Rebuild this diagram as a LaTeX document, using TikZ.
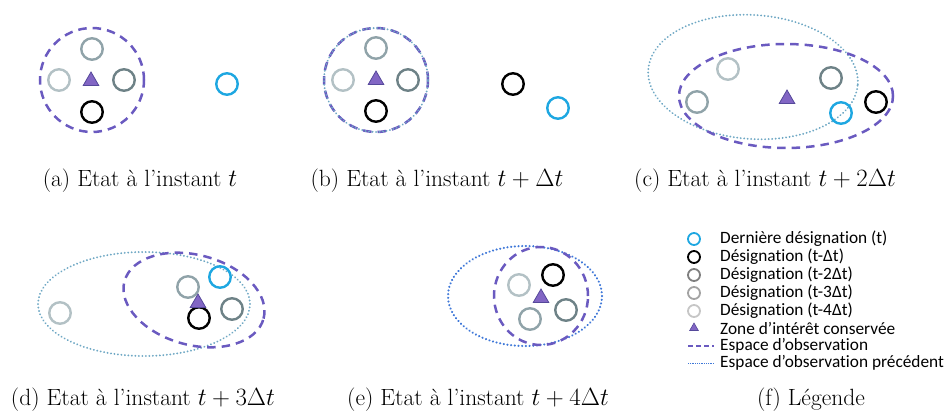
\documentclass[tikz,border=0pt]{standalone}
\usepackage{fontspec}
\newfontfamily\legfont[Ligatures=NoCommon]{Carlito}
\usetikzlibrary{shapes.geometric}
\definecolor{cblue}{HTML}{1EA7E1}
\definecolor{ctwo}{HTML}{6E8287}
\definecolor{cthree}{HTML}{90A3A9}
\definecolor{cfour}{HTML}{B3C1C5}
\definecolor{lthree}{HTML}{7F7F7F}
\definecolor{lfour}{HTML}{A3A3A3}
\definecolor{lfive}{HTML}{C6C6C6}
\definecolor{cpurple}{HTML}{6A5AC0}
\definecolor{ctri}{HTML}{8266C4}
\definecolor{cdot}{HTML}{6FA8C4}
\definecolor{cdotb}{HTML}{3F78D8}
\tikzset{
  desig/.style={circle, draw, line width=2.4pt, minimum size=21.5pt, inner sep=0pt},
  ldesig/.style={circle, draw, line width=1.8pt, minimum size=12pt, inner sep=0pt},
  zone/.style={regular polygon, regular polygon sides=3, fill=ctri, draw=cpurple!80!black, line width=0.8pt, minimum size=18pt, inner sep=0pt},
  lzone/.style={regular polygon, regular polygon sides=3, fill=ctri, draw=cpurple!80!black, line width=0.6pt, minimum size=10pt, inner sep=0pt},
  obs/.style={draw=cpurple, line width=2.5pt, dash pattern=on 8.5pt off 6pt},
  prev/.style={draw=cdot, line width=2pt, dash pattern=on 0.1pt off 3.4pt, line cap=round},
  prevb/.style={draw=cdotb, line width=2.3pt, dash pattern=on 0.1pt off 3.6pt, line cap=round},
  captxt/.style={font=\fontsize{23.5}{28}\selectfont},
  leg/.style={font=\legfont\fontsize{17.3}{20}\selectfont, anchor=west, inner sep=0pt},
}
\begin{document}
\begin{tikzpicture}[x=1pt,y=-1pt]
\useasboundingbox (0,0) rectangle (944,412);
% ---------- (a)
\draw[obs] (92,80) circle[radius=52pt];
\node[desig, draw=cthree] (a1) at (92,49) {};
\node[desig, draw=cfour] (a2) at (59,80) {};
\node[desig, draw=ctwo] (a3) at (124,80) {};
\node[desig, draw=black] (a4) at (92,112) {};
\node[zone] (a5) at (91,81) {};
\node[desig, draw=cblue] (a6) at (227,84) {};
\node[captxt] (ca) at (140,181) {(a) Etat à l'instant $t$};
% ---------- (b)
\draw[obs] (376,80) circle[radius=52pt];
\draw[prev] (376,80) circle[radius=52pt];
\node[desig, draw=cthree] (b1) at (376,48) {};
\node[desig, draw=cfour] (b2) at (343,80) {};
\node[desig, draw=ctwo] (b3) at (408,80) {};
\node[desig, draw=black] (b4) at (376,111) {};
\node[zone] (b5) at (376,80) {};
\node[desig, draw=black] (b6) at (513,84) {};
\node[desig, draw=cblue] (b7) at (558,108) {};
\node[captxt] (cb) at (437,181) {(b) Etat à l'instant $t+\Delta t$};
% ---------- (c)
\draw[prev, rotate around={-4:(753,77)}] (753,77) ellipse[x radius=105pt, y radius=62pt];
\draw[obs] (786,96) ellipse[x radius=107pt, y radius=52pt];
\node[desig, draw=cfour] (c1) at (728,69) {};
\node[desig, draw=cthree] (c2) at (697,102) {};
\node[desig, draw=ctwo] (c3) at (831,78) {};
\node[desig, draw=cblue] (c4) at (841,113) {};
\node[desig, draw=black] (c5) at (876,102) {};
\node[zone] (c6) at (787,99) {};
\node[captxt] (cc) at (765,181) {(c) Etat à l'instant $t+2\Delta t$};
% ---------- (d)
\draw[prev] (144,304) ellipse[x radius=106pt, y radius=52pt];
\draw[obs, rotate around={-15:(194,300)}] (194,300) ellipse[x radius=72pt, y radius=45pt];
\node[desig, draw=cfour] (d1) at (60,313) {};
\node[desig, draw=cthree] (d2) at (188,287) {};
\node[desig, draw=cblue] (d3) at (220,277) {};
\node[desig, draw=black] (d4) at (199,318) {};
\node[desig, draw=ctwo] (d5) at (232,309) {};
\node[zone] (d6) at (198,303) {};
\node[captxt] (cd) at (143,400) {(d) Etat à l'instant $t+3\Delta t$};
% ---------- (e)
\draw[prevb] (525,296) ellipse[x radius=77pt, y radius=50pt];
\draw[obs] (541,296) ellipse[x radius=47pt, y radius=49pt];
\node[desig, draw=black] (e1) at (553,275) {};
\node[desig, draw=cfour] (e2) at (519,285) {};
\node[desig, draw=ctwo] (e3) at (566,310) {};
\node[desig, draw=cthree] (e4) at (530,319) {};
\node[zone] (e5) at (541,298) {};
\node[captxt] (ce) at (478,400) {(e) Etat à l'instant $t+4\Delta t$};
% ---------- (f) legend
\node[ldesig, draw=cblue] (l1) at (694,239) {};
\node[ldesig, draw=black] (l2) at (694,257) {};
\node[ldesig, draw=lthree] (l3) at (694,275) {};
\node[ldesig, draw=lfour] (l4) at (694,293) {};
\node[ldesig, draw=lfive] (l5) at (694,311) {};
\node[lzone] (l6) at (694,328) {};
\coordinate (l7a) at (688,346);
\coordinate (l7b) at (714,346);
\draw[draw=cpurple, line width=1.3pt, dash pattern=on 4.5pt off 3.5pt] (l7a) -- (l7b);
\coordinate (l8a) at (688,363);
\coordinate (l8b) at (714,363);
\draw[draw=cdotb, line width=1pt, dash pattern=on 0.8pt off 1pt] (l8a) -- (l8b);
\node[leg] (t1) at (720,239) {Dernière désignation (t)};
\node[leg] (t2) at (720,257) {Désignation (t-Δt)};
\node[leg] (t3) at (720,275) {Désignation (t-2Δt)};
\node[leg] (t4) at (720,293) {Désignation (t-3Δt)};
\node[leg] (t5) at (720,311) {Désignation (t-4Δt)};
\node[leg] (t6) at (720,328) {Zone d’intérêt conservée};
\node[leg] (t7) at (720,346) {Espace d’observation};
\node[leg] (t8) at (720,363) {Espace d’observation précédent};
\node[captxt] (cf) at (811,400) {(f) Légende};
\end{tikzpicture}
\end{document}
